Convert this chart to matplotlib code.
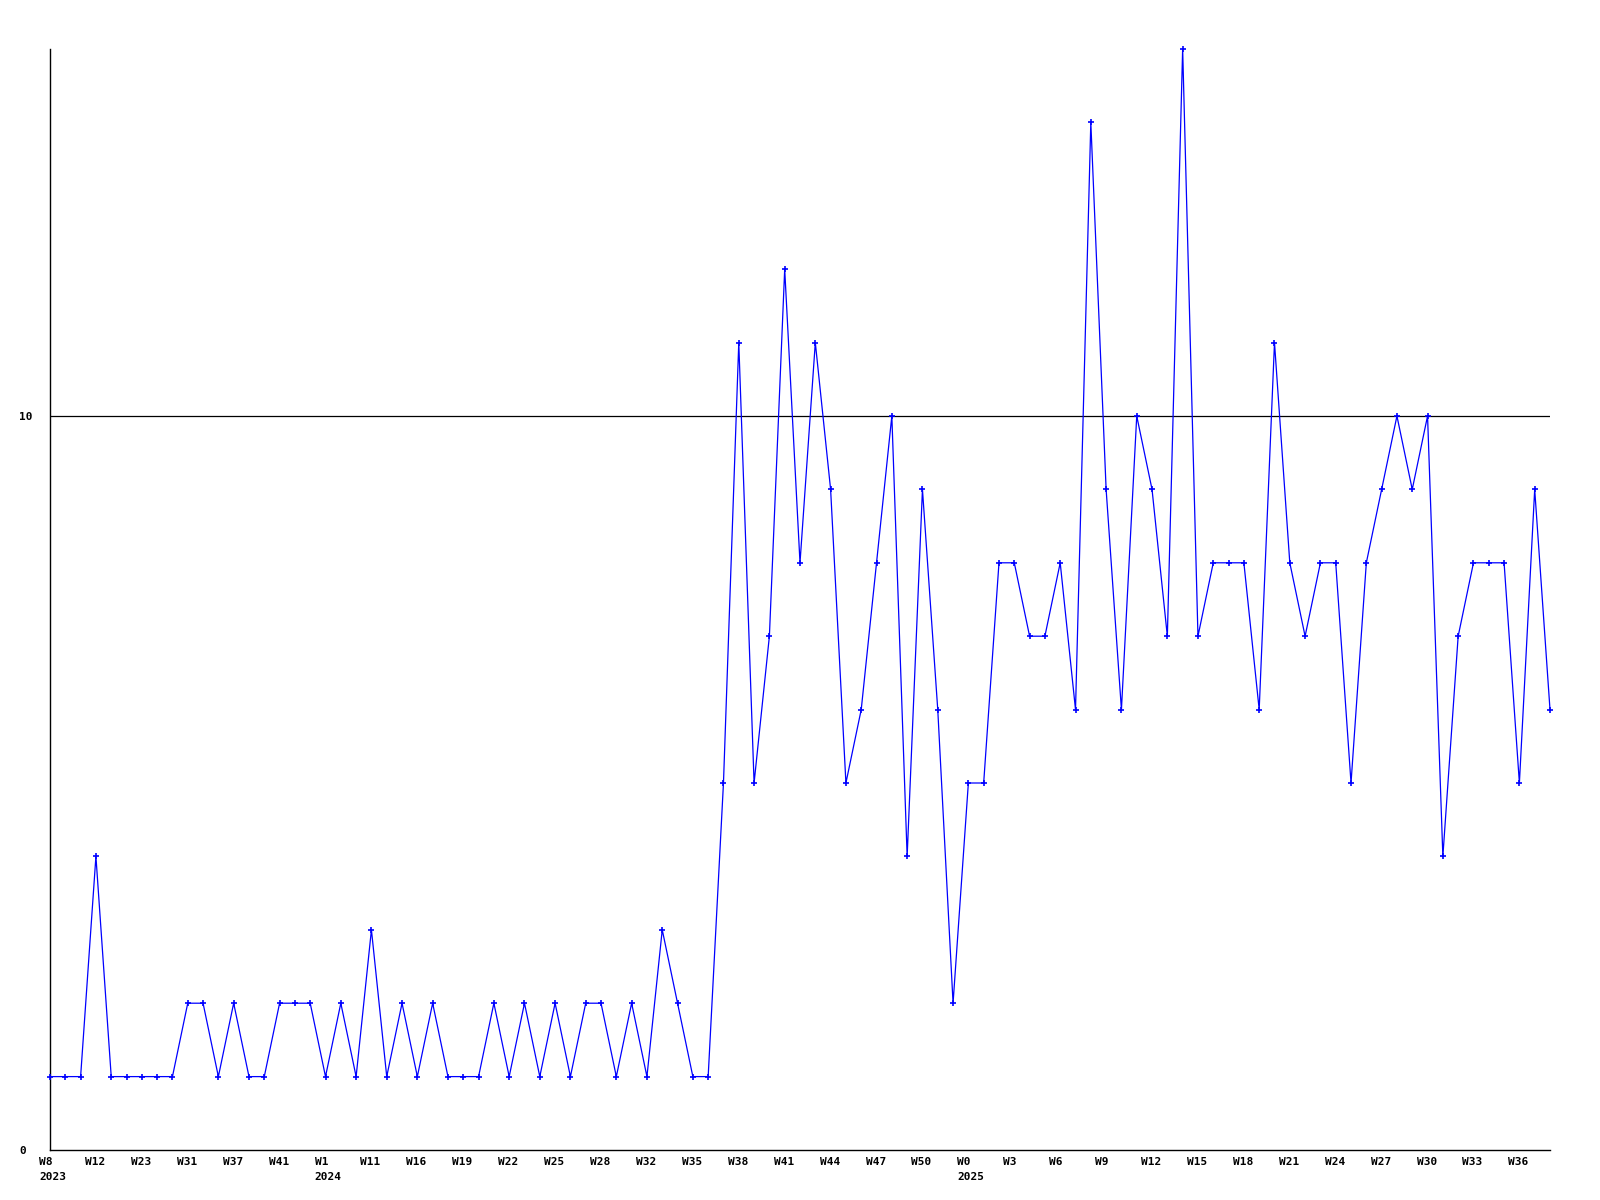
import numpy as np
import matplotlib
matplotlib.use("Agg")
import matplotlib.pyplot as plt
import matplotlib.transforms as mtransforms

values = [1, 1, 1, 4, 1, 1, 1, 1, 1, 2,
          2, 1, 2, 1, 1, 2, 2, 2, 1, 2,
          1, 3, 1, 2, 1, 2, 1, 1, 1, 2,
          1, 2, 1, 2, 1, 2, 2, 1, 2, 1,
          3, 2, 1, 1, 5, 11, 5, 7, 12, 8,
          11, 9, 5, 6, 8, 10, 4, 9, 6, 2,
          5, 5, 8, 8, 7, 7, 8, 6, 14, 9,
          6, 10, 9, 7, 15, 7, 8, 8, 8, 6,
          11, 8, 7, 8, 8, 5, 8, 9, 10, 9,
          10, 4, 7, 8, 8, 8, 5, 9, 6]

week_labels = ["W8", "W12", "W23", "W31", "W37", "W41", "W1", "W11", "W16",
               "W19", "W22", "W25", "W28", "W32", "W35", "W38", "W41", "W44",
               "W47", "W50", "W0", "W3", "W6", "W9", "W12", "W15", "W18",
               "W21", "W24", "W27", "W30", "W33", "W36"]
year_labels = ["2023", "", "", "", "", "", "2024", "", "", "", "", "", "", "",
               "", "", "", "", "", "", "2025", "", "", "", "", "", "", "", "",
               "", "", "", ""]
label_step = 3
y_ticks = [0, 10]
y_max = 15

fig = plt.figure(figsize=(16, 12), dpi=100)
ax = fig.add_axes([50 / 1600, 50 / 1200, 1500 / 1600, 1101 / 1200])

x = np.arange(len(values))
ax.plot(x, values, color=(0, 0, 1), lw=0.9, marker='+', ms=4, mew=1.2,
        clip_on=False, zorder=3)

ax.set_xlim(0, len(values) - 1)
ax.set_ylim(0, y_max)

for s in ["top", "right"]:
    ax.spines[s].set_visible(False)
for s in ["left", "bottom"]:
    ax.spines[s].set_linewidth(1.0)
    ax.spines[s].set_color("black")

ax.axhline(10, color="black", lw=0.9, zorder=1)

font = dict(family="DejaVu Sans Mono", weight="bold", size=8)

ax.set_yticks(y_ticks)
ax.set_yticklabels([str(v) for v in y_ticks], **font)
ax.tick_params(axis="y", length=0, pad=22)
for t in ax.get_yticklabels():
    t.set_horizontalalignment("left")

tick_pos = x[::label_step][:len(week_labels)]
labels = [w if not y else w + "\n" + y for w, y in zip(week_labels, year_labels)]
ax.set_xticks(tick_pos)
ax.set_xticklabels(labels, **font, linespacing=1.6)
ax.tick_params(axis="x", length=0, pad=5)
offset = mtransforms.ScaledTranslation(-11 / 100, 0, fig.dpi_scale_trans)
for t in ax.get_xticklabels():
    t.set_horizontalalignment("left")
    t.set_multialignment("left")
    t.set_transform(t.get_transform() + offset)

fig.savefig("out.png", dpi=100, facecolor="white")
